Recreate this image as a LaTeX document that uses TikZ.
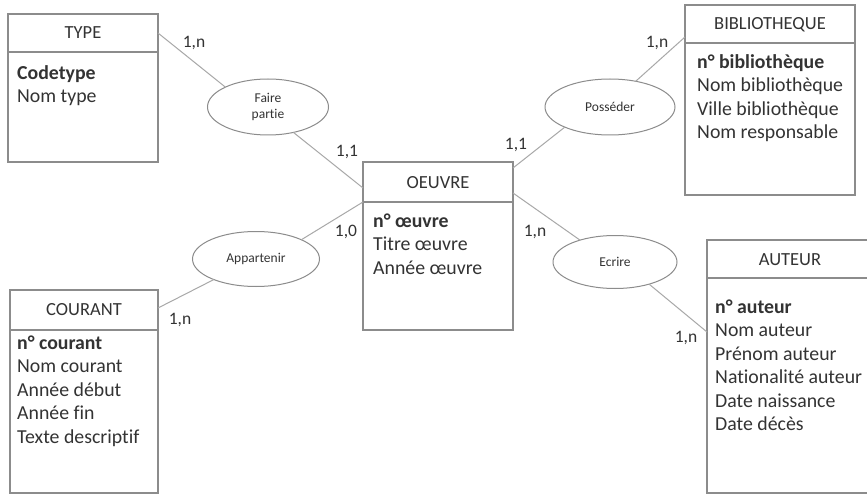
\documentclass[tikz,border=0pt]{standalone}
\usepackage{fontspec}
\setmainfont{Carlito}[Ligatures=NoCommon]
\usetikzlibrary{shapes.geometric,calc}
\definecolor{txt}{HTML}{333333}
\definecolor{boxline}{HTML}{8C8C8C}
\definecolor{conn}{HTML}{A8A8A8}
\tikzset{
  entity/.style={draw=boxline, line width=1.3pt, rectangle, inner sep=0pt, outer sep=0pt, anchor=north west},
  ttl/.style={text=txt, inner sep=0pt, font=\fontsize{18.5}{22}\selectfont},
  attrs/.style={text=txt, inner sep=0pt, anchor=north west, align=left, font=\fontsize{19.8}{23.4}\selectfont},
  relation/.style={draw=boxline, line width=1pt, ellipse, inner sep=0pt, outer sep=0pt, text=txt, align=center, font=\fontsize{13.5}{16}\selectfont},
  card/.style={text=txt, inner sep=0pt, font=\fontsize{17.5}{20}\selectfont},
  link/.style={draw=conn, line width=1pt}
}
\begin{document}
\begin{tikzpicture}[x=1pt,y=-1pt]
\useasboundingbox[fill=white] (0,0) rectangle (867,497);
\begin{scope}
\clip (0,0) rectangle (867,497);
% entities
\node[entity, minimum width=150, minimum height=148] (type) at (8,14) {};
\draw[boxline, line width=1.3pt] ($(type.north west)+(0,38)$) coordinate (typeh1) -- ($(type.north east)+(0,38)$) coordinate (typeh2);
\node[ttl] (typet) at (83,33) {TYPE};
\node[attrs] (typea) at (17,63) {\strut\textbf{Codetype}\\Nom type};

\node[entity, minimum width=150, minimum height=168] (oe) at (363,162) {};
\draw[boxline, line width=1.3pt] ($(oe.north west)+(0,40)$) coordinate (oeh1) -- ($(oe.north east)+(0,40)$) coordinate (oeh2);
\node[ttl] (oet) at (438,183) {OEUVRE};
\node[attrs] (oea) at (373,211) {\strut\textbf{n° œuvre}\\Titre œuvre\\Année œuvre};

\node[entity, minimum width=170, minimum height=190] (bib) at (685,5) {};
\draw[boxline, line width=1.3pt] ($(bib.north west)+(0,38)$) coordinate (bibh1) -- ($(bib.north east)+(0,38)$) coordinate (bibh2);
\node[ttl] (bibt) at (770,25) {BIBLIOTHEQUE};
\node[attrs] (biba) at (697,52) {\strut\textbf{n° bibliothèque}\\Nom bibliothèque\\Ville bibliothèque\\Nom responsable};

\node[entity, minimum width=148, minimum height=203] (cou) at (10,290) {};
\draw[boxline, line width=1.3pt] ($(cou.north west)+(0,40)$) coordinate (couh1) -- ($(cou.north east)+(0,40)$) coordinate (couh2);
\node[ttl] (cout) at (84,310) {COURANT};
\node[attrs] (coua) at (17,333) {\strut\textbf{n° courant}\\Nom courant\\Année début\\Année fin\\Texte descriptif};

\node[entity, minimum width=180, minimum height=253] (aut) at (707,240) {};
\draw[boxline, line width=1.3pt] ($(aut.north west)+(0,38)$) coordinate (auth1) -- ($(aut.north east)+(0,38)$) coordinate (auth2);
\node[ttl] (autt) at (790,260) {AUTEUR};
\node[attrs] (auta) at (715,297) {\strut\textbf{n° auteur}\\Nom auteur\\Prénom auteur\\Nationalité auteur\\Date naissance\\Date décès};

% relations
\node[relation, minimum width=121, minimum height=56] (fp) at (268,107) {Faire\\partie};
\node[relation, minimum width=130, minimum height=56] (pos) at (610,107) {Posséder};
\node[relation, minimum width=124, minimum height=53] (ecr) at (615,262) {Ecrire};
\node[relation, minimum width=127, minimum height=55] (app) at (256,259) {Appartenir};

% connectors
\draw[link] ($(type.north east)+(0,19)$) -- (fp.155);
\draw[link] (fp.-45) -- ($(oe.north west)+(0,26)$);
\draw[link] (pos.45) -- ($(bib.north west)+(0,32)$);
\draw[link] (pos.204) -- ($(oe.north east)+(0,6)$);
\draw[link] ($(oe.north east)+(0,31)$) -- (ecr.148);
\draw[link] (ecr.-33) -- ($(aut.north west)+(0,92)$);
\draw[link] (app.23) -- ($(oe.north west)+(0,40)$);
\draw[link] (app.206) -- ($(cou.north east)+(0,18)$);

% cardinalities
\node[card] (c1) at (194,43) {1,n};
\node[card] (c2) at (347,152) {1,1};
\node[card] (c3) at (346,232) {1,0};
\node[card] (c4) at (516,145) {1,1};
\node[card] (c5) at (657,43) {1,n};
\node[card] (c6) at (535,232) {1,n};
\node[card] (c7) at (686,338) {1,n};
\node[card] (c8) at (180,320) {1,n};
\end{scope}
\end{tikzpicture}
\end{document}
